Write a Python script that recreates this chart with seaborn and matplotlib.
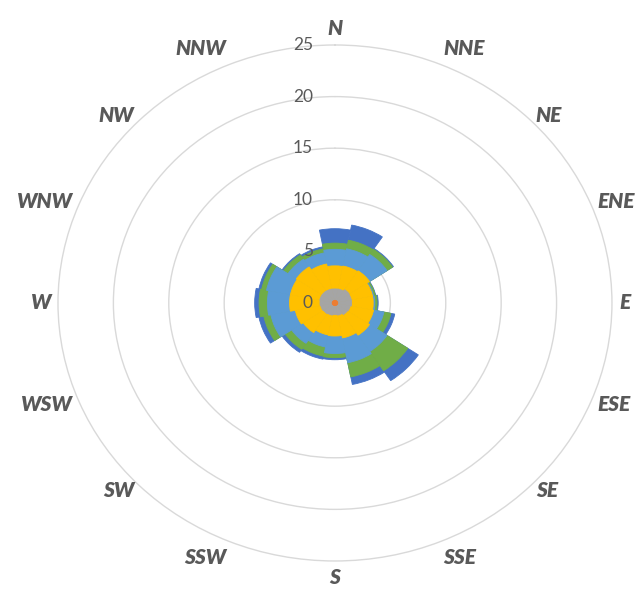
import numpy as np
import matplotlib
matplotlib.use("Agg")
import matplotlib.pyplot as plt
import seaborn as sns

# Wind directions (categories), clockwise from north
directions = ["N", "NNE", "NE", "ENE", "E", "ESE", "SE", "SSE",
              "S", "SSW", "SW", "WSW", "W", "WNW", "NW", "NNW"]

# Cumulative (stacked) frequency values per series
dark_blue  = [7.2, 7.7, 6.35, 3.75, 3.9, 5.5, 9.05, 8.05, 5.5, 5.55, 5.75, 7.0, 7.25, 7.0, 5.75, 5.55]
green      = [5.8, 6.2, 6.25, 3.7, 3.8, 5.15, 7.9, 7.3, 5.3, 5.25, 5.4, 6.55, 6.85, 6.75, 5.6, 5.35]
light_blue = [5.2, 5.35, 5.65, 3.55, 3.6, 4.5, 5.65, 5.9, 4.9, 4.35, 4.7, 5.9, 6.1, 6.3, 5.1, 4.95]
yellow     = [3.6, 3.65, 3.75, 3.45, 3.45, 3.55, 3.75, 3.45, 3.2, 3.15, 3.45, 3.65, 4.1, 4.1, 4.2, 3.85]
gray       = [1.36, 1.38, 1.55, 1.5, 1.5, 1.4, 1.35, 1.2, 1.13, 1.2, 1.25, 1.3, 1.35, 1.4, 1.4, 1.38]
orange     = [0.25] * 16

radial_ticks = [0, 5, 10, 15, 20, 25]

series = [dark_blue, green, light_blue, yellow, gray, orange]
colors = ["#4472C4", "#70AD47", "#5B9BD5", "#FFC000", "#A5A5A5", "#ED7D31"]

sns.set_theme(style="white")
plt.rcParams["font.family"] = ["Lato", "DejaVu Sans"]

fig = plt.figure(figsize=(6.4, 5.92), dpi=100)
ax = fig.add_axes([0.0906, 0.0524, 0.8656, 0.8716], projection="polar")
ax.set_aspect("auto")
ax.set_theta_zero_location("N")
ax.set_theta_direction(-1)

n = len(directions)
theta = np.deg2rad(np.arange(n) * 360.0 / n)
width = 2 * np.pi / n

for vals, col in zip(series, colors):
    ax.bar(theta, vals, width=width, bottom=0, color=col, edgecolor=col,
           linewidth=0.6, align="center", zorder=2, antialiased=True)

ax.set_ylim(0, radial_ticks[-1])
ax.set_yticks(radial_ticks[1:-1])
ax.set_yticklabels([])
ax.set_xticks([])
ax.set_axisbelow(True)
ax.yaxis.grid(True, color="#D9D9D9", linewidth=1.0)
ax.spines["polar"].set_color("#D9D9D9")
ax.spines["polar"].set_linewidth(1.0)

label_color = "#595959"

# Radial value labels along the north axis
for v in radial_ticks:
    ax.annotate(str(v), xy=(0, v), xytext=(-22, 0), textcoords="offset pixels",
                ha="right", va="center", fontsize=12.5, color=label_color,
                zorder=5, annotation_clip=False)

# Direction labels outside the outer ring
for t, name in zip(theta, directions):
    s, c = np.sin(t), np.cos(t)
    if s > 0.1:
        ha = "left"
    elif s < -0.1:
        ha = "right"
    else:
        ha = "center"
    if c > 0.8:
        va = "bottom"
    elif c < -0.8:
        va = "top"
    else:
        va = "center"
    gap = 7
    ax.annotate(name, xy=(t, radial_ticks[-1]), xytext=(gap * s, gap * c),
                textcoords="offset pixels", ha=ha, va=va, fontsize=15,
                fontweight="heavy", fontstyle="italic", color=label_color,
                annotation_clip=False, zorder=5)

fig.savefig("out.png", dpi=100)
